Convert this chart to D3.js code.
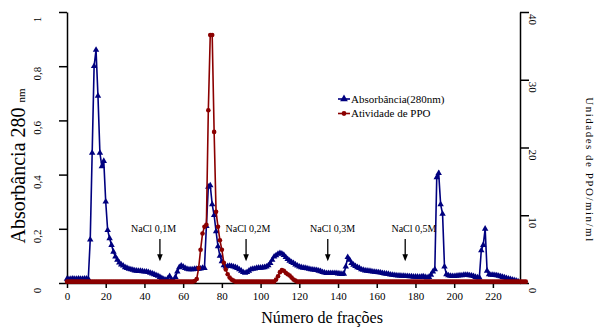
<!DOCTYPE html>
<html>
<head>
<meta charset="utf-8">
<script src="https://cdn.jsdelivr.net/npm/d3@7"></script>
<style>
  body { margin: 0; background: #fff; }
  svg text { font-family: "Liberation Serif", "Times New Roman", serif; fill: #000; }
</style>
</head>
<body>
<svg id="chart" width="597" height="329"></svg>
<script>
// Absorbance at 280 nm, one value per fraction (0..233)
const absorbance = [
  0.015, 0.014, 0.015, 0.016, 0.015, 0.015, 0.016, 0.015, 0.015, 0.016, 0.016, 0.015,
  0.16, 0.48, 0.80, 0.86, 0.69, 0.48, 0.43, 0.45, 0.30, 0.195, 0.165, 0.14, 0.115, 0.097,
  0.085, 0.075, 0.068, 0.064, 0.058, 0.055, 0.052, 0.05, 0.048, 0.046, 0.045, 0.044, 0.044,
  0.043, 0.042, 0.042, 0.04, 0.037, 0.035, 0.032, 0.029, 0.026, 0.022, 0.018, 0.014, 0.011,
  0.016, 0.025, 0.012, 0.006, 0.022, 0.042, 0.058, 0.064, 0.06, 0.055, 0.052, 0.05, 0.05,
  0.05, 0.052, 0.052, 0.052, 0.053, 0.055, 0.055, 0.21, 0.355, 0.36, 0.29, 0.25, 0.19,
  0.135, 0.10, 0.08, 0.065, 0.06, 0.062, 0.063, 0.062, 0.06, 0.058, 0.055, 0.05, 0.045,
  0.04, 0.037, 0.04, 0.045, 0.05, 0.052, 0.053, 0.055, 0.056, 0.056, 0.057, 0.058, 0.06,
  0.065, 0.073, 0.085, 0.097, 0.102, 0.107, 0.11, 0.108, 0.103, 0.095, 0.088, 0.082, 0.077,
  0.073, 0.068, 0.064, 0.06, 0.058, 0.056, 0.055, 0.054, 0.052, 0.05, 0.049, 0.048, 0.047,
  0.045, 0.043, 0.04, 0.038, 0.036, 0.036, 0.036, 0.036, 0.036, 0.036, 0.035, 0.034, 0.033,
  0.034, 0.06, 0.095, 0.085, 0.073, 0.067, 0.062, 0.058, 0.055, 0.05, 0.048, 0.046, 0.045,
  0.044, 0.043, 0.042, 0.041, 0.04, 0.039, 0.038, 0.036, 0.035, 0.034, 0.033, 0.031, 0.03,
  0.029, 0.028, 0.027, 0.027, 0.026, 0.026, 0.025, 0.025, 0.024, 0.024, 0.023, 0.023, 0.023,
  0.022, 0.023, 0.024, 0.022, 0.02, 0.022, 0.03, 0.042, 0.05, 0.39, 0.405, 0.29, 0.255,
  0.06, 0.032, 0.028, 0.026, 0.025, 0.025, 0.026, 0.027, 0.028, 0.028, 0.03, 0.03, 0.03,
  0.028, 0.027, 0.025, 0.022, 0.02, 0.02, 0.12, 0.14, 0.20, 0.045, 0.032, 0.03, 0.03,
  0.029, 0.028, 0.026, 0.024, 0.022, 0.02, 0.018, 0.016, 0.014, 0.012, 0.01, 0.008, 0.006
];

// PPO activity (units/min/ml), one value per fraction (0..233)
const activity = [
  0.2, 0.2, 0.2, 0.2, 0.2, 0.2, 0.2, 0.2, 0.2, 0.2, 0.2, 0.2, 0.2, 0.2, 0.2, 0.2, 0.2, 0.2,
  0.2, 0.2, 0.2, 0.2, 0.2, 0.2, 0.2, 0.2, 0.2, 0.2, 0.2, 0.2, 0.2, 0.2, 0.2, 0.2, 0.2, 0.2,
  0.2, 0.2, 0.2, 0.2, 0.2, 0.2, 0.2, 0.2, 0.2, 0.2, 0.2, 0.2, 0.2, 0.2, 0.2, 0.2, 0.2, 0.2,
  0.2, 0.2, 0.2, 0.2, 0.2, 0.2, 0.2, 0.2, 0.2, 0.2, 0.2, 0.2, 0.3,
  0.6, 2.2, 4.9, 7.3, 8.3, 8.6, 25.5, 36.6, 36.6, 22.3, 10.5, 8.3, 6.3, 4.9, 3.0, 2.0, 1.3,
  0.8, 0.5, 0.35,
  0.2, 0.2, 0.2, 0.2, 0.2, 0.2, 0.2, 0.2, 0.2, 0.2, 0.2, 0.2, 0.2, 0.2, 0.2, 0.2, 0.2, 0.2,
  0.2, 0.2, 0.2,
  0.5, 1.0, 1.6, 1.9, 1.8, 1.5, 1.3, 1.1, 0.8, 0.5, 0.35,
  0.2, 0.2, 0.2, 0.2, 0.2, 0.2, 0.2, 0.2, 0.2, 0.2, 0.2, 0.2, 0.2, 0.2, 0.2, 0.2, 0.2, 0.2,
  0.2, 0.2, 0.2, 0.2, 0.2, 0.2, 0.2, 0.2, 0.2, 0.2, 0.2, 0.2, 0.2, 0.2, 0.2, 0.2, 0.2, 0.2,
  0.2, 0.2, 0.2, 0.2, 0.2, 0.2, 0.2, 0.2, 0.2, 0.2, 0.2, 0.2, 0.2, 0.2, 0.2, 0.2, 0.2, 0.2,
  0.2, 0.2, 0.2, 0.2, 0.2, 0.2, 0.2, 0.2, 0.2, 0.2, 0.2, 0.2, 0.2, 0.2, 0.2, 0.2, 0.2, 0.2,
  0.2, 0.2, 0.2, 0.2, 0.2, 0.2, 0.2, 0.2, 0.2, 0.2, 0.2, 0.2, 0.2, 0.2, 0.2, 0.2, 0.2, 0.2,
  0.2, 0.2, 0.2, 0.2, 0.2, 0.2, 0.2, 0.2, 0.2, 0.2, 0.2, 0.2, 0.2, 0.2, 0.2, 0.2, 0.2, 0.2,
  0.2, 0.2, 0.2, 0.2, 0.2, 0.2, 0.2, 0.2, 0.2, 0.2, 0.2
];

const xTicks = [0, 20, 40, 60, 80, 100, 120, 140, 160, 180, 200, 220];
const absTicks = [0, 0.2, 0.4, 0.6, 0.8, 1];
const actTicks = [0, 10, 20, 30, 40];

const saltLabels = ["NaCl 0,1M", "NaCl 0,2M", "NaCl 0,3M", "NaCl 0,5M"];
const saltArrowAt = [48, 92.5, 134.7, 174.7];   // fraction where the arrow points
const saltLabelAt = [44.7, 93.5, 137.2, 179.2]; // fraction of the label centre

const seriesNames = ["Absorbância(280nm)", "Atividade de PPO"];

const BLUE = "#00007f", RED = "#8b0000";

const margin = {top: 12, right: 77, bottom: 46, left: 67}
    , width = 597 - margin.left - margin.right
    , height = 329 - margin.top - margin.bottom;

const x = d3.scaleLinear().domain([0, 234]).range([0, width]);
const yAbs = d3.scaleLinear().domain([0, 1]).range([height, 0]);
const yAct = d3.scaleLinear().domain([0, 40]).range([height, 0]);

const svg = d3.select("#chart")
  .append("g")
    .attr("transform", `translate(${margin.left}, ${margin.top})`);

const comma = d => String(d).replace(".", ",");

// x axis
const gx = svg.append("g")
    .attr("transform", `translate(0, ${height})`)
    .call(d3.axisBottom(x).tickValues(xTicks).tickSize(5).tickSizeOuter(0));
gx.selectAll("text").attr("y", 9).style("font-size", "11px");

// left axis
const gl = svg.append("g")
    .call(d3.axisLeft(yAbs).tickValues(absTicks).tickSize(8).tickSizeOuter(0).tickFormat(comma));
gl.selectAll("text")
    .attr("x", null).attr("dy", null)
    .attr("text-anchor", "middle")
    .attr("transform", "translate(-26, 7) rotate(-90)")
    .style("font-size", "11px");

// right axis
const gr = svg.append("g")
    .attr("transform", `translate(${width}, 0)`)
    .call(d3.axisRight(yAct).tickValues(actTicks).tickSize(9).tickSizeOuter(0));
gr.selectAll("text")
    .attr("x", null).attr("dy", null)
    .attr("text-anchor", "middle")
    .attr("transform", "translate(9, 7) rotate(90)")
    .style("font-size", "11px");

svg.selectAll(".domain, .tick line").attr("stroke", "#000").attr("stroke-width", 1.5);

// axis titles
svg.append("text")
    .attr("x", 255).attr("y", height + 40)
    .attr("text-anchor", "middle")
    .style("font-size", "16px")
    .text("Número de frações");

const yt = svg.append("text")
    .attr("transform", `translate(${25 - margin.left}, 154) rotate(-90)`)
    .attr("text-anchor", "middle")
    .style("font-size", "20px");
yt.append("tspan").text("Absorbância 280 ");
yt.append("tspan").style("font-size", "11px").text("nm");

svg.append("text")
    .attr("transform", `translate(${width + 66}, 158) rotate(90)`)
    .attr("text-anchor", "middle")
    .style("font-size", "11px")
    .style("letter-spacing", "1.5px")
    .text("Unidades de PPO/min/ml");

// series
const absData = absorbance.map((v, i) => [i, v]);
const actData = activity.map((v, i) => [i, v]);

svg.append("path")
    .datum(absData)
    .attr("fill", "none").attr("stroke", BLUE).attr("stroke-width", 1.6)
    .attr("d", d3.line().x(d => x(d[0])).y(d => yAbs(d[1])));

const tri = d3.symbol().type(d3.symbolTriangle).size(18);
svg.selectAll(".tri")
    .data(absData)
  .enter().append("path")
    .attr("class", "tri")
    .attr("transform", d => `translate(${x(d[0])}, ${yAbs(d[1])})`)
    .attr("d", tri)
    .attr("fill", BLUE);

svg.append("path")
    .datum(actData)
    .attr("fill", "none").attr("stroke", RED).attr("stroke-width", 1.6)
    .attr("d", d3.line().x(d => x(d[0])).y(d => yAct(d[1])));

svg.selectAll(".dot")
    .data(actData)
  .enter().append("circle")
    .attr("class", "dot")
    .attr("r", 2.3)
    .attr("cx", d => x(d[0]))
    .attr("cy", d => yAct(d[1]))
    .attr("fill", RED);

// salt step annotations
saltLabels.forEach((label, i) => {
  svg.append("text")
      .attr("x", x(saltLabelAt[i]))
      .attr("y", yAbs(0.19))
      .attr("text-anchor", "middle")
      .style("font-size", "10px")
      .text(label);
  const ax = x(saltArrowAt[i]), top = yAbs(0.162), tip = yAbs(0.08);
  svg.append("line")
      .attr("x1", ax).attr("x2", ax).attr("y1", top).attr("y2", tip - 2)
      .attr("stroke", "#000").attr("stroke-width", 1.3);
  svg.append("path")
      .attr("d", `M${ax - 2.8},${tip - 7}L${ax + 2.8},${tip - 7}L${ax},${tip}Z`)
      .attr("fill", "#000");
});

// legend
const legend = svg.selectAll(".legend")
    .data(seriesNames)
  .enter().append("g")
    .attr("class", "legend")
    .attr("transform", (d, i) => `translate(${338 - margin.left}, ${99 - margin.top + i * 14.5})`);

legend.append("line")
    .attr("x1", 0).attr("x2", 12)
    .attr("stroke", (d, i) => i ? RED : BLUE).attr("stroke-width", 1.6);

legend.append("path")
    .attr("transform", "translate(6, 0)")
    .attr("d", (d, i) => i ? d3.symbol().type(d3.symbolCircle).size(18)() : d3.symbol().type(d3.symbolTriangle).size(26)())
    .attr("fill", (d, i) => i ? RED : BLUE);

legend.append("text")
    .attr("x", 13)
    .attr("dy", "0.35em")
    .style("font-size", "11px")
    .text(d => d);
</script>
</body>
</html>
